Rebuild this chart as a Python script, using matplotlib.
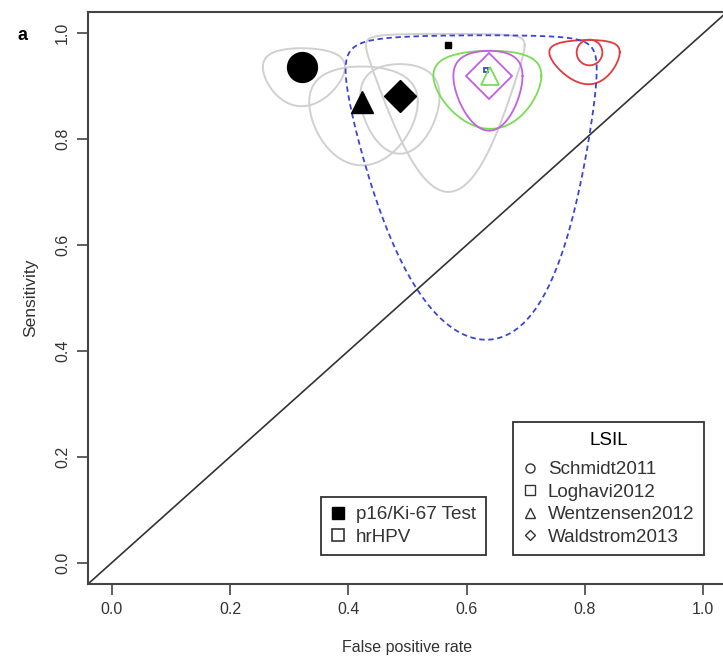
import numpy as np
import matplotlib
matplotlib.use("Agg")
import matplotlib.pyplot as plt
from matplotlib.lines import Line2D

plt.rcParams["font.family"] = ["Liberation Sans", "DejaVu Sans"]

# ── Data ────────────────────────────────────────────────────────────────────
STUDIES = ["Schmidt2011", "Loghavi2012", "Wentzensen2012", "Waldstrom2013"]
SYMBOLS = ["o", "s", "^", "D"]

# p16/Ki-67 point estimates + confidence region half-widths on the logit scale
P16_FPR = [0.321, 0.569, 0.423, 0.487]
P16_SENS = [0.936, 0.977, 0.870, 0.881]
P16_HW_FPR = [0.32, 0.56, 0.38, 0.27]
P16_HW_SENS = [0.85, 2.90, 0.80, 0.78]
P16_MS = [21.5, 5, 16, 16.5]

# hrHPV point estimates + confidence region half-widths on the logit scale
HPV_FPR = [0.806, 0.633, 0.640, 0.638]
HPV_SENS = [0.964, 0.931, 0.920, 0.919]
HPV_HW_FPR = [0.38, 0.97, 0.40, 0.254]
HPV_HW_SENS = [1.05, 2.92, 0.93, 0.94]
HPV_MS = [18.5, 3, 13, 23.4]
HPV_COLORS = ["#e23a3f", "#3b45d6", "#78dd55", "#c35fe3"]
HPV_LS = ["-", (0, (3, 2)), "-", "-"]

TICKS = [0.0, 0.2, 0.4, 0.6, 0.8, 1.0]


def logit(p):
    p = np.asarray(p, dtype=float)
    return np.log(p / (1 - p))


def expit(z):
    return 1 / (1 + np.exp(-z))


def region(x0, y0, hx, hy, n=300):
    """Confidence region: ellipse in logit space, back-transformed."""
    t = np.linspace(0, 2 * np.pi, n)
    return expit(logit(x0) + hx * np.cos(t)), expit(logit(y0) + hy * np.sin(t))


fig = plt.figure(figsize=(7.23, 6.61), dpi=100)
ax = fig.add_axes([88 / 723, 77 / 661, 639 / 723, 572 / 661])
ax.set_xlim(-0.04, 1.04)
ax.set_ylim(-0.04, 1.04)

ax.axline((0, 0), (1, 1), color="#333333", lw=1.2, zorder=1)

# p16/Ki-67 regions (grey)
for i in range(len(STUDIES)):
    xs, ys = region(P16_FPR[i], P16_SENS[i], P16_HW_FPR[i], P16_HW_SENS[i])
    ax.plot(xs, ys, color="#d0d0d0", lw=1.4, zorder=2)

# hrHPV regions (coloured)
for i in range(len(STUDIES)):
    xs, ys = region(HPV_FPR[i], HPV_SENS[i], HPV_HW_FPR[i], HPV_HW_SENS[i])
    ax.plot(xs, ys, color=HPV_COLORS[i], lw=1.3, ls=HPV_LS[i], zorder=3)

for i in range(len(STUDIES)):
    ax.plot(HPV_FPR[i], HPV_SENS[i], marker=SYMBOLS[i], ms=HPV_MS[i], mfc="none",
            mec=HPV_COLORS[i], mew=1.3, ls="none", zorder=4)
    ax.plot(P16_FPR[i], P16_SENS[i], marker=SYMBOLS[i], ms=P16_MS[i], color="black",
            ls="none", zorder=5)

ax.set_xticks(TICKS)
ax.set_xticklabels([f"{t:.1f}" for t in TICKS])
ax.set_yticks(TICKS)
ax.set_yticklabels([f"{t:.1f}" for t in TICKS], rotation=90, va="center")
ax.tick_params(direction="out", length=8, width=1.2, colors="#444444",
               labelcolor="#333333", labelsize=11.5, pad=5)
for s in ax.spines.values():
    s.set_color("#444444")
    s.set_linewidth(1.5)

ax.set_xlabel("False positive rate", fontsize=11.5, color="#333333")
ax.xaxis.set_label_coords(0.5, -0.098)
ax.set_ylabel("Sensitivity", fontsize=12.5, color="#333333")
ax.yaxis.set_label_coords(-0.078, 0.5)

fig.text(22 / 723, 1 - 36 / 661, "a", fontsize=13, fontweight="bold", ha="center", va="center")

# legends
leg_kw = dict(frameon=True, fancybox=False, framealpha=1, edgecolor="#333333",
              fontsize=13.6, handlelength=0.8, handletextpad=0.55, borderaxespad=0,
              labelspacing=0.28, borderpad=0.5)
h1 = [Line2D([], [], marker="s", ls="none", color="black", ms=8),
      Line2D([], [], marker="s", ls="none", mfc="none", mec="#333333", ms=8, mew=1.2)]
leg1 = ax.legend(h1, ["p16/Ki-67 Test", "hrHPV"], loc="lower left",
                 bbox_to_anchor=(0.365, 0.05), **leg_kw)
leg1.get_frame().set_linewidth(1.3)
ax.add_artist(leg1)

h2 = [Line2D([], [], marker=m, ls="none", mfc="none", mec="#333333", mew=1.0,
             ms=5 if m == "D" else 6.5) for m in SYMBOLS]
leg2 = ax.legend(h2, STUDIES, loc="lower left", bbox_to_anchor=(0.665, 0.05),
                 title="LSIL", title_fontsize=13.6, **leg_kw)
leg2.get_frame().set_linewidth(1.3)
leg2._legend_box.sep = 9
for t in leg1.get_texts() + leg2.get_texts():
    t.set_color("#333333")

fig.savefig("out.png", dpi=100)
